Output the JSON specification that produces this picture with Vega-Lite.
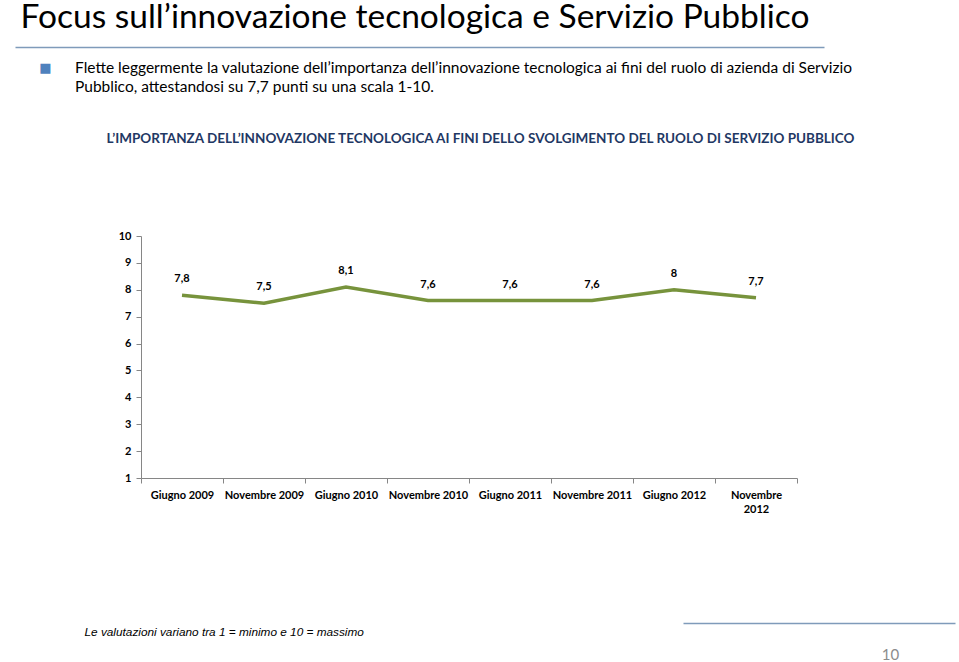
{
  "$schema": "https://vega.github.io/schema/vega-lite/v6.json",
  "width": 656,
  "height": 242,
  "autosize": {"type": "none"},
  "padding": {"left": 141, "top": 236, "right": 162, "bottom": 184},
  "background": "white",
  "config": {"view": {"stroke": null}},
  "title": {
    "text": [
      "Flette leggermente la valutazione dell’importanza dell’innovazione tecnologica ai fini del ruolo di azienda di Servizio",
      "Pubblico, attestandosi su 7,7 punti su una scala 1-10."
    ],
    "anchor": "start",
    "frame": "group",
    "dx": -66,
    "dy": 95,
    "offset": 0,
    "font": "Lato",
    "fontSize": 15.5,
    "fontWeight": "normal",
    "color": "#000000",
    "lineHeight": 19
  },
  "datasets": {
    "main": [
      {"period": "Giugno 2009", "score": 7.8, "label": "7,8"},
      {"period": "Novembre 2009", "score": 7.5, "label": "7,5"},
      {"period": "Giugno 2010", "score": 8.1, "label": "8,1"},
      {"period": "Novembre 2010", "score": 7.6, "label": "7,6"},
      {"period": "Giugno 2011", "score": 7.6, "label": "7,6"},
      {"period": "Novembre 2011", "score": 7.6, "label": "7,6"},
      {"period": "Giugno 2012", "score": 8.0, "label": "8"},
      {"period": "Novembre 2012", "score": 7.7, "label": "7,7"}
    ]
  },
  "layer": [
    {
      "data": {"name": "main"},
      "encoding": {
        "x": {
          "field": "period",
          "type": "nominal",
          "sort": null,
          "bandPosition": 0.5,
          "scale": {"type": "band", "paddingInner": 0, "paddingOuter": 0},
          "axis": {
            "orient": "bottom",
            "title": "Le valutazioni variano tra 1 = minimo e 10 = massimo",
            "titleFont": "Liberation Sans",
            "titleFontStyle": "italic",
            "titleFontWeight": "normal",
            "titleFontSize": 11.8,
            "titleColor": "#000000",
            "titleAlign": "left",
            "titleBaseline": "alphabetic",
            "titleX": -57,
            "titleY": 157,
            "tickBand": "extent",
            "tickSize": 5,
            "tickColor": "#868686",
            "domainColor": "#868686",
            "labelFont": "Lato",
            "labelFontWeight": "bold",
            "labelFontSize": 11,
            "labelColor": "#000000",
            "labelAngle": 0,
            "labelPadding": 6,
            "labelOverlap": false,
            "labelLimit": 200,
            "labelLineHeight": 14,
            "labelExpr": "datum.label == 'Novembre 2012' ? ['Novembre', '2012'] : datum.label",
            "grid": false
          }
        },
        "y": {
          "field": "score",
          "type": "quantitative",
          "scale": {"domain": [1, 10], "zero": false, "nice": false},
          "axis": {
            "orient": "left",
            "values": [1, 2, 3, 4, 5, 6, 7, 8, 9, 10],
            "title": "■",
            "titleFont": "DejaVu Sans",
            "titleFontSize": 13,
            "titleFontWeight": "normal",
            "titleColor": "#4F81BD",
            "titleAngle": 0,
            "titleAlign": "center",
            "titleBaseline": "middle",
            "titleX": -96,
            "titleY": -169,
            "tickSize": 5,
            "tickColor": "#868686",
            "domainColor": "#868686",
            "labelFont": "Lato",
            "labelFontWeight": "bold",
            "labelFontSize": 11,
            "labelColor": "#000000",
            "labelPadding": 5,
            "grid": false
          }
        }
      },
      "layer": [
        {"mark": {"type": "line", "color": "#77933C", "strokeWidth": 3.5}},
        {
          "mark": {"type": "text", "dy": -16, "font": "Lato", "fontWeight": "bold", "fontSize": 11, "color": "#000000", "baseline": "middle"},
          "encoding": {"text": {"field": "label", "type": "nominal"}}
        }
      ]
    },
    {
      "data": {"name": "main"},
      "mark": {"type": "point", "opacity": 0},
      "encoding": {
        "x": {
          "datum": 0,
          "type": "quantitative",
          "scale": {"domain": [0, 1], "range": [-126, 683]},
          "axis": {
            "orient": "top",
            "offset": 189,
            "labels": false,
            "ticks": false,
            "grid": false,
            "domainColor": "#7F9BBA",
            "domainWidth": 1.5,
            "title": "Focus sull’innovazione tecnologica e Servizio Pubblico",
            "titleFont": "Lato",
            "titleFontWeight": "normal",
            "titleFontSize": 33.5,
            "titleColor": "#000000",
            "titleAlign": "left",
            "titleBaseline": "alphabetic",
            "titleX": -121,
            "titleY": -20
          }
        },
        "y": {
          "datum": 0,
          "type": "quantitative",
          "scale": {"domain": [0, 1]},
          "axis": {
            "orient": "right",
            "labels": false,
            "ticks": false,
            "grid": false,
            "domain": false,
            "title": "L’IMPORTANZA DELL’INNOVAZIONE TECNOLOGICA AI FINI DELLO SVOLGIMENTO DEL RUOLO DI SERVIZIO PUBBLICO",
            "titleFont": "Lato",
            "titleFontWeight": "bold",
            "titleFontSize": 13.5,
            "titleColor": "#1F3864",
            "titleAngle": 0,
            "titleAlign": "center",
            "titleBaseline": "alphabetic",
            "titleX": -317,
            "titleY": -94
          }
        }
      }
    },
    {
      "data": {"name": "main"},
      "mark": {"type": "point", "opacity": 0},
      "encoding": {
        "x": {
          "datum": 0,
          "type": "quantitative",
          "scale": {"domain": [0, 1], "range": [542, 814]},
          "axis": {
            "orient": "bottom",
            "offset": 145,
            "labels": false,
            "ticks": false,
            "grid": false,
            "domainColor": "#7F9BBA",
            "domainWidth": 1.5,
            "title": "10",
            "titleFont": "Lato",
            "titleFontWeight": "normal",
            "titleFontSize": 15,
            "titleColor": "#8C8C8C",
            "titleAlign": "center",
            "titleBaseline": "alphabetic",
            "titleX": 749,
            "titleY": 36
          }
        }
      }
    }
  ],
  "resolve": {
    "scale": {"x": "independent", "y": "independent"},
    "axis": {"x": "independent", "y": "independent"}
  }
}
